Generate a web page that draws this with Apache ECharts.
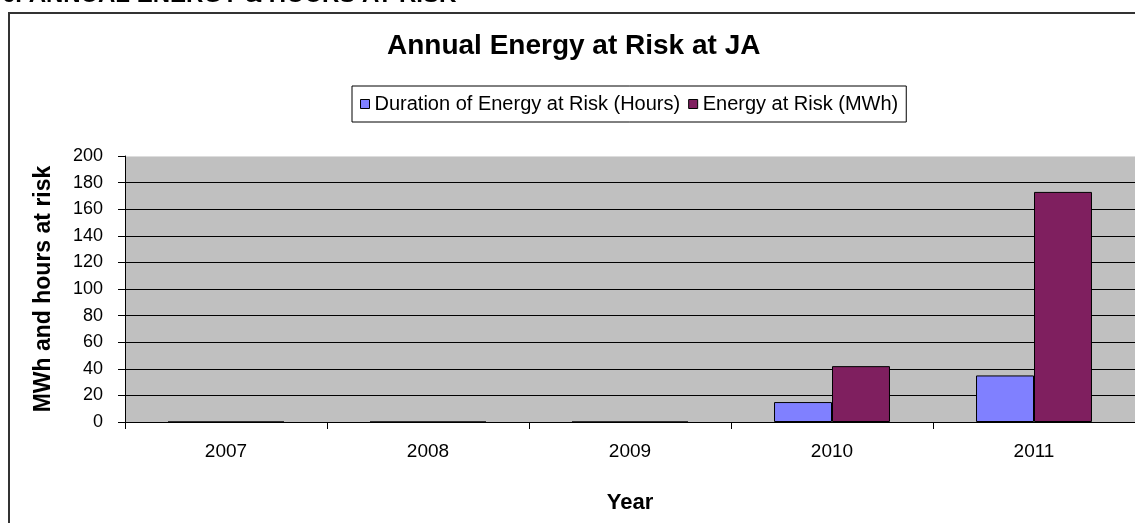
<!DOCTYPE html>
<html><head><meta charset="utf-8">
<script src="https://cdn.jsdelivr.net/npm/echarts@6/dist/echarts.min.js"></script>
<style>html,body{margin:0;padding:0;background:#fff;}#c{width:1135px;height:523px;}</style>
</head><body><div id="c"></div>
<script>
const categories = ['2007','2008','2009','2010','2011'];
const hoursAtRisk = [0, 0, 0, 15, 35];
const energyAtRisk = [0, 0, 0, 42, 173];
const yTicks = {min: 0, max: 200, interval: 20};
const FONT = '"Liberation Sans", Arial, sans-serif';

const gridColors = [];
for (let v = yTicks.min; v <= yTicks.max; v += yTicks.interval) {
  gridColors.push(v === yTicks.max ? '#DDDDDD' : '#000000');
}

const chart = echarts.init(document.getElementById('c'));
chart.setOption({
  animation: false,
  textStyle: {fontFamily: FONT},
  graphic: [
    {type: 'rect', shape: {x: 9, y: 13, width: 1200, height: 600}, style: {fill: 'none', stroke: '#333', lineWidth: 2}},
    {type: 'text', x: 2, y: -17, style: {text: '6. ANNUAL ENERGY & HOURS AT RISK', font: 'bold 24px ' + FONT, fill: '#000', verticalAlign: 'top'}}
  ],
  title: {
    text: 'Annual Energy at Risk at JA',
    left: 382, top: 27,
    textStyle: {fontFamily: FONT, fontSize: 28, fontWeight: 'bold', color: '#000'}
  },
  legend: {
    left: 352, top: 86,
    orient: 'horizontal',
    icon: 'rect', itemWidth: 9, itemHeight: 9, itemGap: 8,
    borderColor: '#000', borderWidth: 1, padding: [8, 8, 8, 8],
    itemStyle: {borderColor: '#000', borderWidth: 1},
    textStyle: {fontFamily: FONT, fontSize: 20, color: '#000', padding: [0, 0, 0, 0]},
    data: ['Duration of Energy at Risk (Hours)', 'Energy at Risk (MWh)']
  },
  grid: {left: 125, right: 0, top: 156, bottom: 101, show: true, backgroundColor: '#C0C0C0', borderWidth: 0},
  xAxis: {
    type: 'category', data: categories,
    name: 'Year', nameLocation: 'middle', nameGap: 70,
    nameTextStyle: {fontFamily: FONT, fontSize: 22, fontWeight: 'bold', color: '#000'},
    axisLine: {lineStyle: {color: '#000', width: 1}},
    axisTick: {show: true, alignWithLabel: false, length: 7, lineStyle: {color: '#000'}},
    axisLabel: {fontFamily: FONT, fontSize: 19, color: '#000', margin: 20}
  },
  yAxis: {
    type: 'value', min: yTicks.min, max: yTicks.max, interval: yTicks.interval,
    name: 'MWh and hours at risk', nameLocation: 'middle', nameGap: 70, nameRotate: 90,
    nameTextStyle: {fontFamily: FONT, fontSize: 23, fontWeight: 'bold', color: '#000'},
    axisLine: {show: true, lineStyle: {color: '#000', width: 1}},
    axisTick: {show: true, length: 7, lineStyle: {color: '#000'}},
    axisLabel: {fontFamily: FONT, fontSize: 18, color: '#000', margin: 22},
    splitLine: {show: true, lineStyle: {color: gridColors, width: 1}}
  },
  series: [
    {name: 'Duration of Energy at Risk (Hours)', type: 'bar', data: hoursAtRisk,
     barGap: '0%', barCategoryGap: '42.6%',
     itemStyle: {color: '#8080FF', borderColor: '#000', borderWidth: 1}},
    {name: 'Energy at Risk (MWh)', type: 'bar', data: energyAtRisk,
     barGap: '0%', barCategoryGap: '42.6%',
     itemStyle: {color: '#7F1F5F', borderColor: '#000', borderWidth: 1}}
  ]
});
</script></body></html>
